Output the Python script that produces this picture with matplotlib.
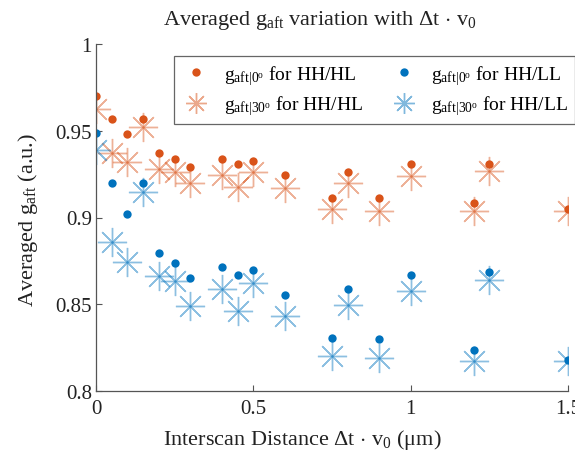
import matplotlib
matplotlib.use("Agg")
import matplotlib.pyplot as plt
from matplotlib.lines import Line2D

plt.rcParams["font.family"] = ["Liberation Serif", "DejaVu Serif"]
plt.rcParams["mathtext.fontset"] = "custom"
plt.rcParams["mathtext.rm"] = "Liberation Serif"
plt.rcParams["mathtext.it"] = "Liberation Serif:italic"
plt.rcParams["mathtext.bf"] = "Liberation Serif:bold"

# Interscan distance (um)
dist = [0, 0.05, 0.1, 0.15, 0.2, 0.25, 0.3, 0.4, 0.45, 0.5, 0.6,
        0.75, 0.8, 0.9, 1.0, 1.2, 1.25, 1.5]

# HH/HL
hl_0 = [0.970, 0.957, 0.948, 0.957, 0.937, 0.934, 0.929, 0.9335, 0.931, 0.9325, 0.9245,
        0.9115, 0.926, 0.911, 0.931, 0.9085, 0.931, 0.905]
hl_30 = [0.9625, 0.937, 0.932, 0.952, 0.928, 0.9265, 0.920, 0.9245, 0.9175, 0.926, 0.917,
         0.905, 0.920, 0.904, 0.924, 0.904, 0.927, 0.904]

# HH/LL
ll_0 = [0.9485, 0.920, 0.902, 0.920, 0.8795, 0.874, 0.865, 0.8717, 0.867, 0.870, 0.8553,
        0.8304, 0.8588, 0.830, 0.8669, 0.8238, 0.8688, 0.818]
ll_30 = [0.939, 0.8857, 0.8746, 0.9145, 0.866, 0.8636, 0.8488, 0.8588, 0.8463, 0.8622, 0.8435,
         0.8204, 0.8496, 0.8188, 0.8575, 0.8175, 0.864, 0.8175]

orange = "#D95319"
blue = "#0072BD"
text_col = "#222222"

W, H = 575, 460
fig = plt.figure(figsize=(W / 100, H / 100), dpi=100)
ax = fig.add_axes([96 / W, 1 - 392 / H, (568 - 96) / W, (392 - 45) / H])

star = (8, 2, 0)
ax.plot(dist, hl_30, linestyle="none", marker=star, markersize=21, markeredgewidth=1.0,
        color=orange, alpha=0.45)
ax.plot(dist, ll_30, linestyle="none", marker=star, markersize=21, markeredgewidth=1.0,
        color=blue, alpha=0.45)
ax.plot(dist, hl_30, linestyle="none", marker="o", markersize=2, color=orange, alpha=0.6, mew=0)
ax.plot(dist, ll_30, linestyle="none", marker="o", markersize=2, color=blue, alpha=0.6, mew=0)
ax.plot(dist, hl_0, linestyle="none", marker="o", markersize=6, color=orange, mew=0)
ax.plot(dist, ll_0, linestyle="none", marker="o", markersize=6, color=blue, mew=0)

ax.set_xlim(0, 1.5)
ax.set_ylim(0.8, 1.0)
ax.set_xticks([0, 0.5, 1, 1.5])
ax.set_xticklabels(["0", "0.5", "1", "1.5"])
ax.set_yticks([0.8, 0.85, 0.9, 0.95, 1.0])
ax.set_yticklabels(["0.8", "0.85", "0.9", "0.95", "1"])

for side in ("top", "right"):
    ax.spines[side].set_visible(False)
for side in ("left", "bottom"):
    ax.spines[side].set_color("#555555")
    ax.spines[side].set_linewidth(0.9)
ax.tick_params(direction="in", length=4, width=0.8, colors="#555555",
               labelcolor=text_col, labelsize=15)
ax.tick_params(axis="x", pad=6)
ax.tick_params(axis="y", pad=3)

fig.text(302 / W, 1 - 440 / H,
         r"Interscan Distance $\Delta$t $\cdot$ v$_0$ ($\mathrm{\mu}$m)",
         fontsize=16, color=text_col, ha="center", va="center")
fig.text(28 / W, 1 - 220 / H, r"Averaged g$_{\mathrm{aft}}$ (a.u.)",
         fontsize=16, color=text_col, ha="center", va="center", rotation=90)
fig.text(320 / W, 1 - 20 / H,
         r"Averaged g$_{\mathrm{aft}}$ variation with $\Delta$t $\cdot$ v$_0$",
         fontsize=16, color=text_col, ha="center", va="center")

handles = [
    Line2D([], [], linestyle="none", marker="o", markersize=6, color=orange, mew=0),
    Line2D([], [], linestyle="none", marker=star, markersize=15, mew=1.0, color=orange, alpha=0.5),
    Line2D([], [], linestyle="none", marker="o", markersize=6, color=blue, mew=0),
    Line2D([], [], linestyle="none", marker=star, markersize=15, mew=1.0, color=blue, alpha=0.5),
]
labels = [
    r"g$_{\mathrm{aft|0^o}}$ for HH/HL",
    r"g$_{\mathrm{aft|30^o}}$ for HH/HL",
    r"g$_{\mathrm{aft|0^o}}$ for HH/LL",
    r"g$_{\mathrm{aft|30^o}}$ for HH/LL",
]
leg = ax.legend(handles, labels, ncol=2, loc="upper left",
                bbox_to_anchor=(174 / W, 1 - 126 / H, (W - 174) / W, (126 - 57) / H),
                bbox_transform=fig.transFigure, mode="expand", fontsize=14,
                frameon=True, fancybox=False, edgecolor="#666666", borderaxespad=0,
                handlelength=1.6, handletextpad=0.6, columnspacing=1.0,
                labelspacing=0.35, borderpad=0.35)
leg.get_frame().set_linewidth(0.9)
leg.get_frame().set_alpha(1.0)

fig.savefig("out.png", dpi=100)
